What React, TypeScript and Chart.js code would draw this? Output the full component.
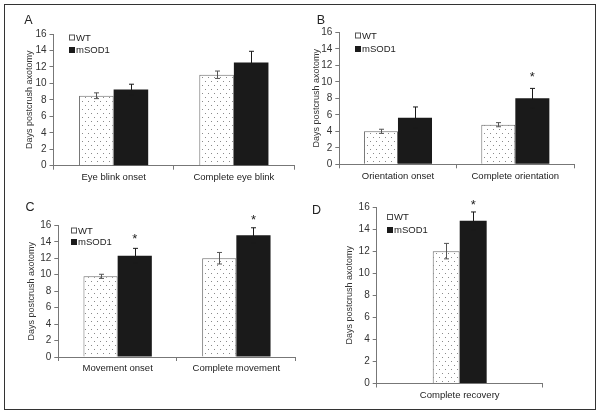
import React, { useEffect, useRef } from "react";
import { Chart, registerables } from "chart.js";
Chart.register(...registerables);

// ---------- data ----------
const seriesNames = ["WT", "mSOD1"];
const yTitle = "Days postcrush axotomy";
const yMin = 0;
const yMax = 16;
const yStep = 2;

const catsA = ["Eye blink onset", "Complete eye blink"];
const wtA = [8.5, 11.05];
const wtErrA = [0.35, 0.45];
const sodA = [9.25, 12.55];
const sodErrA = [0.65, 1.35];
const starA: (number | null)[] = [null, null];

const catsB = ["Orientation onset", "Complete orientation"];
const wtB = [4.0, 4.8];
const wtErrB = [0.25, 0.25];
const sodB = [5.65, 8.0];
const sodErrB = [1.3, 1.2];
const starB: (number | null)[] = [null, 11.0];

const catsC = ["Movement onset", "Complete movement"];
const wtC = [9.8, 12.0];
const wtErrC = [0.25, 0.7];
const sodC = [12.3, 14.8];
const sodErrC = [0.9, 0.9];
const starC: (number | null)[] = [14.8, 17.1];

const catsD = ["Complete recovery"];
const wtD = [12.0];
const wtErrD = [0.7];
const sodD = [14.75];
const sodErrD = [0.8];
const starD: (number | null)[] = [16.5];

const panelLetters = ["A", "B", "C", "D"];

// ---------- layout (page pixels) ----------
const W = 600;
const H = 416;
const FONT = "'Liberation Sans', Arial, Helvetica, sans-serif";

type Panel = {
  letter: string;
  cats: string[];
  wt: number[];
  wtErr: number[];
  sod: number[];
  sodErr: number[];
  star: (number | null)[];
  left: number;
  right: number;
  top: number;
  bottom: number;
  titleX: number;
  legendX: number;
  legendY: number;
  legendGap: number;
  letterX: number;
  letterY: number;
  catPct: number;
};

const panels: Panel[] = [
  { letter: panelLetters[0], cats: catsA, wt: wtA, wtErr: wtErrA, sod: sodA, sodErr: sodErrA, star: starA,
    left: 53.5, right: 294, top: 34, bottom: 165.7, titleX: 30, legendX: 69, legendY: 37.5, legendGap: 12.5,
    letterX: 28.5, letterY: 21, catPct: 0.575 },
  { letter: panelLetters[1], cats: catsB, wt: wtB, wtErr: wtErrB, sod: sodB, sodErr: sodErrB, star: starB,
    left: 339.3, right: 574, top: 32.3, bottom: 164.3, titleX: 316.7, legendX: 355, legendY: 35.5, legendGap: 13.5,
    letterX: 321, letterY: 20.5, catPct: 0.58 },
  { letter: panelLetters[2], cats: catsC, wt: wtC, wtErr: wtErrC, sod: sodC, sodErr: sodErrC, star: starC,
    left: 58.3, right: 295.7, top: 225.3, bottom: 357, titleX: 31.7, legendX: 71, legendY: 230.5, legendGap: 11.5,
    letterX: 30, letterY: 208, catPct: 0.576 },
  { letter: panelLetters[3], cats: catsD, wt: wtD, wtErr: wtErrD, sod: sodD, sodErr: sodErrD, star: starD,
    left: 376.7, right: 542.7, top: 207, bottom: 383.5, titleX: 350, legendX: 387, legendY: 217, legendGap: 13,
    letterX: 316.5, letterY: 211, catPct: 0.325 },
];

function makeDotPattern(): CanvasPattern | string {
  const c = document.createElement("canvas");
  c.width = 6;
  c.height = 8;
  const g = c.getContext("2d");
  if (!g) return "#fff";
  g.fillStyle = "#ffffff";
  g.fillRect(0, 0, 6, 8);
  g.fillStyle = "#8a8a8a";
  g.fillRect(1, 1, 1, 1);
  g.fillRect(4, 5, 1, 1);
  const ctx = document.createElement("canvas").getContext("2d");
  return ctx ? (ctx.createPattern(c, "repeat") as CanvasPattern) : "#fff";
}

const overlayPlugin = {
  id: "overlay",
  afterDatasetsDraw(chart: any, _args: any, opts: any) {
    const ctx: CanvasRenderingContext2D = chart.ctx;
    const ys = chart.scales.y;
    const errs: number[][] = opts.errors;
    const colors: string[] = opts.errColors;
    ctx.save();
    errs.forEach((list, di) => {
      const meta = chart.getDatasetMeta(di);
      meta.data.forEach((bar: any, i: number) => {
        const v = chart.data.datasets[di].data[i] as number;
        const e = list[i];
        const x = Math.round(bar.x) + 0.5;
        const yt = ys.getPixelForValue(v + e);
        const yb = ys.getPixelForValue(v - e);
        ctx.strokeStyle = colors[di];
        ctx.lineWidth = 1;
        ctx.beginPath();
        ctx.moveTo(x, yt);
        ctx.lineTo(x, yb);
        ctx.moveTo(x - 2.5, yt);
        ctx.lineTo(x + 2.5, yt);
        ctx.moveTo(x - 2.5, yb);
        ctx.lineTo(x + 2.5, yb);
        ctx.stroke();
      });
    });
    // significance stars (on the second series)
    const stars: (number | null)[] = opts.stars;
    const meta1 = chart.getDatasetMeta(1);
    ctx.fillStyle = "#222";
    ctx.font = `13px ${FONT}`;
    ctx.textAlign = "center";
    ctx.textBaseline = "alphabetic";
    stars.forEach((s, i) => {
      if (s == null) return;
      const bar = meta1.data[i];
      const yy = ys.getPixelForValue(s);
      ctx.fillText("*", bar.x, yy + 7.5);
    });
    ctx.restore();
  },
  afterDraw(chart: any, _args: any, opts: any) {
    const ctx: CanvasRenderingContext2D = chart.ctx;
    ctx.save();
    // legend
    const names: string[] = chart.data.datasets.map((d: any) => d.label);
    names.forEach((name, i) => {
      const cy = opts.legendY + i * opts.legendGap;
      const bx = opts.legendX;
      if (i === 0) {
        ctx.fillStyle = "#fff";
        ctx.fillRect(bx + 0.5, cy - 2.5, 5, 5);
        ctx.strokeStyle = "#555";
        ctx.lineWidth = 1;
        ctx.strokeRect(bx + 0.5, cy - 2.5, 5, 5);
      } else {
        ctx.fillStyle = "#1a1a1a";
        ctx.fillRect(bx, cy - 3, 6, 6);
      }
      ctx.fillStyle = "#222";
      ctx.font = `9.5px ${FONT}`;
      ctx.textAlign = "left";
      ctx.textBaseline = "middle";
      ctx.fillText(name, bx + 7, cy + 0.5);
    });
    // panel letter
    ctx.fillStyle = "#222";
    ctx.font = `12.5px ${FONT}`;
    ctx.textAlign = "center";
    ctx.textBaseline = "middle";
    ctx.fillText(opts.letter, opts.letterX, opts.letterY);
    ctx.restore();
  },
};

function PanelChart({ p }: { p: Panel }) {
  const ref = useRef<HTMLCanvasElement | null>(null);
  useEffect(() => {
    if (!ref.current) return;
    const pattern = makeDotPattern();
    const yAxisW = p.left - (p.titleX - 5.4);
    const xAxisH = 30;
    const chart = new Chart(ref.current, {
      type: "bar",
      data: {
        labels: p.cats,
        datasets: [
          { label: seriesNames[0], data: p.wt, backgroundColor: pattern as any, borderColor: "#6a6a6a", borderWidth: 1,
            categoryPercentage: p.catPct, barPercentage: 1 },
          { label: seriesNames[1], data: p.sod, backgroundColor: "#1a1a1a", borderWidth: 0,
            categoryPercentage: p.catPct, barPercentage: 1 },
        ],
      },
      options: {
        responsive: false,
        animation: false,
        events: [],
        layout: {
          padding: {
            left: p.left - yAxisW,
            right: W - p.right,
            top: p.top,
            bottom: H - p.bottom - xAxisH,
          },
        },
        plugins: {
          legend: { display: false },
          tooltip: { enabled: false },
          overlay: {
            errors: [p.wtErr, p.sodErr],
            errColors: ["#555", "#1a1a1a"],
            stars: p.star,
            legendX: p.legendX,
            legendY: p.legendY,
            legendGap: p.legendGap,
            letter: p.letter,
            letterX: p.letterX,
            letterY: p.letterY,
          },
        } as any,
        scales: {
          x: {
            afterFit: (s: any) => { s.height = xAxisH; },
            grid: { display: true, drawOnChartArea: false, drawTicks: true, tickLength: 4, color: "#777", offset: true },
            border: { display: true, color: "#777", width: 1 },
            ticks: { color: "#222", font: { family: FONT, size: 9.5 }, padding: 2, maxRotation: 0, autoSkip: false },
          },
          y: {
            min: yMin,
            max: yMax,
            afterFit: (s: any) => { s.width = yAxisW; },
            grid: { display: true, drawOnChartArea: false, drawTicks: true, tickLength: 4, color: "#777" },
            border: { display: true, color: "#777", width: 1 },
            ticks: { stepSize: yStep, color: "#333", font: { family: FONT, size: 10 }, padding: 3 },
            title: { display: true, text: yTitle, color: "#333", font: { family: FONT, size: 9 }, padding: 0 },
          },
        },
      },
      plugins: [overlayPlugin as any],
    });
    return () => chart.destroy();
  }, [p]);
  return (
    <canvas
      ref={ref}
      width={W}
      height={H}
      style={{ position: "absolute", left: 0, top: 0, width: W, height: H }}
    />
  );
}

export default function App() {
  return (
    <div style={{ position: "absolute", left: 0, top: 0, width: W, height: H, background: "#fff" }}>
      <div
        style={{
          position: "absolute",
          left: 4,
          top: 4,
          width: 592,
          height: 406,
          border: "1.5px solid #333",
          boxSizing: "border-box",
        }}
      />
      {panels.map((p) => (
        <PanelChart key={p.letter} p={p} />
      ))}
    </div>
  );
}
